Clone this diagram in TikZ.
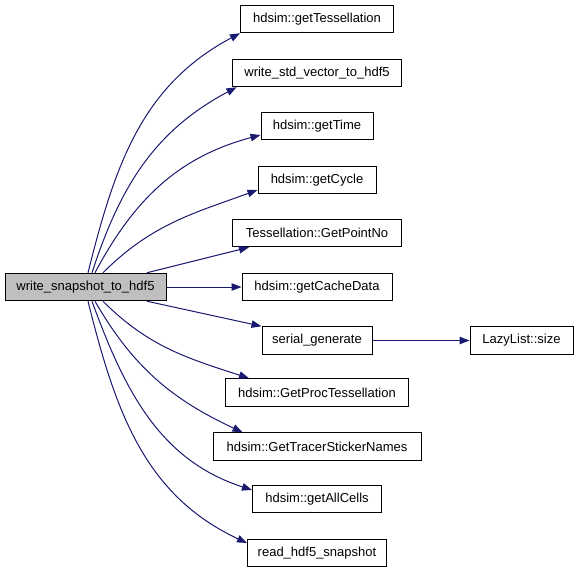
\documentclass[tikz,border=0pt]{standalone}
\usepackage{fontspec}
\setmainfont{Liberation Sans}
\usetikzlibrary{arrows.meta}
\definecolor{edgeblue}{HTML}{191970}
\definecolor{maingray}{HTML}{BFBFBF}
\tikzset{
  fn/.style={draw=black, line width=1pt, fill=white, minimum height=27.5pt, inner xsep=2pt, inner ysep=0pt,
    font=\fontsize{13}{15}\selectfont, anchor=center},
  mainfn/.style={fn, fill=maingray},
  call/.style={draw=edgeblue, line width=1pt, -{Triangle[length=10pt,width=7.5pt]}},
}
\begin{document}
\begin{tikzpicture}[x=1pt,y=-1pt]
\useasboundingbox (0,0) rectangle (579,573);
\node[mainfn, minimum width=161pt] (main) at (85.5,287) {write\_snapshot\_to\_hdf5};
\node[fn, minimum width=153pt] (n1) at (317,19) {hdsim::getTessellation};
\node[fn, minimum width=169pt] (n2) at (317,73) {write\_std\_vector\_to\_hdf5};
\node[fn, minimum width=112pt] (n3) at (317,126) {hdsim::getTime};
\node[fn, minimum width=118pt] (n4) at (317,180) {hdsim::getCycle};
\node[fn, minimum width=169pt] (n5) at (317,233) {Tessellation::GetPointNo};
\node[fn, minimum width=150pt] (n6) at (317,287) {hdsim::getCacheData};
\node[fn, minimum width=110pt] (n7) at (317,340.5) {serial\_generate};
\node[fn, minimum width=183pt] (n8) at (317,392.5) {hdsim::GetProcTessellation};
\node[fn, minimum width=208pt] (n9) at (317,446.5) {hdsim::GetTracerStickerNames};
\node[fn, minimum width=129pt] (n10) at (317,499) {hdsim::getAllCells};
\node[fn, minimum width=139pt] (n11) at (317,553) {read\_hdf5\_snapshot};
\node[fn, minimum width=103pt] (n12) at (521.5,340.5) {LazyList::size};

\draw[call] ([xshift=2.5pt]main.north) to[out=76,in=208] (n1.south west);
\draw[call] ([xshift=6.5pt]main.north) to[out=72,in=208] ([xshift=4.5pt]n2.south west);
\draw[call] ([xshift=9.5pt]main.north) to[out=62,in=195] ([yshift=-9pt]n3.west);
\draw[call] ([xshift=17.5pt]main.north) to[out=45,in=200] ([yshift=-10pt]n4.west);
\draw[call] ([xshift=61.5pt]main.north) -- ([xshift=17pt]n5.south west);
\draw[call] (main.east) -- (n6.west);
\draw[call] ([xshift=61.5pt]main.south) -- (n7.north west);
\draw[call] ([xshift=17.5pt]main.south) to[out=-45,in=162] ([xshift=24pt]n8.north west);
\draw[call] ([xshift=9.5pt]main.south) to[out=-60,in=155] ([xshift=30pt]n9.north west);
\draw[call] ([xshift=6.5pt]main.south) to[out=-70,in=162] ([yshift=9pt]n10.west);
\draw[call] ([xshift=2.5pt]main.south) to[out=-76,in=155] ([yshift=10pt]n11.west);
\draw[call] (n7.east) -- (n12.west);
\end{tikzpicture}
\end{document}
